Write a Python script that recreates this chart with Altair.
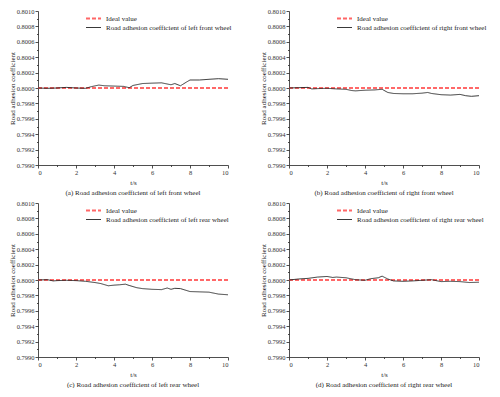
import altair as alt
import pandas as pd

FONT = "Liberation Serif"
IDEAL = 0.8

t_a = [0, 0.5, 1, 1.5, 2, 2.5, 2.8, 3.2, 3.5, 4, 4.5, 4.8, 5, 5.5, 6, 6.5, 7, 7.2, 7.5, 7.8, 8, 8.5, 9, 9.5, 10]
v_a = [0.80000, 0.799996, 0.80000, 0.800008, 0.80000, 0.799996, 0.800017, 0.800038, 0.800029, 0.800025,
       0.800021, 0.800004, 0.800033, 0.800058, 0.800063, 0.800067, 0.800042, 0.800058, 0.800029, 0.800075,
       0.800104, 0.800104, 0.800113, 0.800121, 0.800113]

t_b = [0, 0.5, 1, 1.2, 1.5, 2, 2.5, 3, 3.3, 3.5, 4, 4.5, 4.9, 5.2, 5.5, 6, 6.5, 7, 7.3, 7.5, 8, 8.5, 9, 9.3, 9.6, 10]
v_b = [0.80000, 0.800004, 0.800008, 0.799988, 0.799992, 0.799996, 0.799988, 0.799983, 0.799967, 0.799963,
       0.799971, 0.799975, 0.799983, 0.799942, 0.799929, 0.799925, 0.799925, 0.799933, 0.799942, 0.799929,
       0.799913, 0.799908, 0.799917, 0.799900, 0.799892, 0.799900]

t_c = [0, 0.5, 0.8, 1, 1.5, 2, 2.5, 3, 3.3, 3.7, 4, 4.3, 4.6, 4.8, 5.2, 5.5, 6, 6.5, 6.8, 7, 7.2, 7.5, 8, 8.5, 9, 9.5, 10]
v_c = [0.80000, 0.800004, 0.799988, 0.799992, 0.799996, 0.799992, 0.799983, 0.799967, 0.799954, 0.799925,
       0.799933, 0.799938, 0.799946, 0.799929, 0.799900, 0.799888, 0.799879, 0.799875, 0.799896, 0.799879,
       0.799892, 0.799888, 0.799850, 0.799846, 0.799842, 0.799817, 0.799808]

t_d = [0, 0.5, 1, 1.5, 2, 2.3, 2.5, 3, 3.5, 4, 4.3, 4.7, 4.9, 5.2, 5.5, 6, 6.5, 7, 7.5, 8, 8.5, 9, 9.5, 10]
v_d = [0.80000, 0.800013, 0.800021, 0.800038, 0.800046, 0.800033, 0.800038, 0.800029, 0.800004, 0.799996,
       0.800017, 0.800029, 0.800050, 0.800013, 0.799988, 0.799983, 0.799988, 0.799996, 0.800004, 0.799979,
       0.799983, 0.799979, 0.799967, 0.799971]

panels = [
    ("left front wheel", "(a)", t_a, v_a),
    ("right front wheel", "(b)", t_b, v_b),
    ("left rear wheel", "(c)", t_c, v_c),
    ("right rear wheel", "(d)", t_d, v_d),
]

x_ticks = list(range(0, 11))
y_ticks = [round(0.7990 + i * 0.0001, 4) for i in range(21)]


def panel(name, tag, ts, vs):
    label = "Road adhesion coefficient of " + name
    rows = [{"t": 0, "v": IDEAL, "s": "Ideal value"}, {"t": 10, "v": IDEAL, "s": "Ideal value"}]
    rows += [{"t": a, "v": b, "s": label} for a, b in zip(ts, vs)]
    df = pd.DataFrame(rows)
    dom = ["Ideal value", label]
    return alt.Chart(df).mark_line().encode(
        x=alt.X("t:Q", scale=alt.Scale(domain=[0, 10], nice=False),
                axis=alt.Axis(values=x_ticks, title="t/s",
                              labelExpr="datum.value % 2 == 0 ? datum.label : ''",
                              tickSize={"condition": {"test": "datum.value % 2 == 0", "value": 3}, "value": 1.5},
                              labelPadding=1, titlePadding=3)),
        y=alt.Y("v:Q", scale=alt.Scale(domain=[0.7990, 0.8010], nice=False, zero=False),
                axis=alt.Axis(values=y_ticks, title="Road adhesion coefficient",
                              labelExpr="round(datum.value*10000) % 2 == 0 ? format(datum.value, '.4f') : ''",
                              tickSize={"condition": {"test": "round(datum.value*10000) % 2 == 0", "value": 3}, "value": 1.5},
                              labelPadding=1, titlePadding=1)),
        color=alt.Color("s:N", sort=dom,
                        scale=alt.Scale(domain=dom, range=["#ff4d4d", "#222222"]),
                        legend=alt.Legend(title=None, orient="none", legendX=47, legendY=3,
                                          symbolType="stroke", symbolSize=225, symbolStrokeWidth=1.5,
                                          labelFont=FONT, labelFontSize=7, labelColor="#222",
                                          clipHeight=9, rowPadding=0, labelOffset=4)),
        strokeDash=alt.StrokeDash("s:N", sort=dom,
                                  scale=alt.Scale(domain=dom, range=[[4, 2], [1, 0]]),
                                  legend=None),
        strokeWidth=alt.StrokeWidth("s:N", scale=alt.Scale(domain=dom, range=[2, 0.9]),
                                    legend=None),
        opacity=alt.Opacity("s:N", scale=alt.Scale(domain=dom, range=[0.85, 1]),
                            legend=None),
    ).properties(
        width=190, height=154,
        title=alt.TitleParams(tag + " " + "Road adhesion coefficient of " + name, orient="bottom",
                              font=FONT, fontSize=7, fontWeight="normal", color="#222", offset=3),
    )


res = dict(color="independent", strokeDash="independent", strokeWidth="independent", opacity="independent")
charts = [panel(*p) for p in panels]
row1 = alt.hconcat(charts[0], charts[1], spacing=27).resolve_scale(**res)
row2 = alt.hconcat(charts[2], charts[3], spacing=27).resolve_scale(**res)
chart = alt.vconcat(row1, row2, spacing=4).resolve_scale(**res).properties(padding=0).configure_view(
    stroke=None
).configure_axis(
    labelFont=FONT, titleFont=FONT, labelFontSize=6.5, titleFontSize=7, titleFontWeight="normal",
    labelColor="#333", titleColor="#222", domainColor="#222", tickColor="#222",
    domainWidth=0.8, tickWidth=0.8, grid=False,
).configure_legend(labelLimit=300)

chart.save("out.html", embed_options={"renderer": "svg", "actions": False})
